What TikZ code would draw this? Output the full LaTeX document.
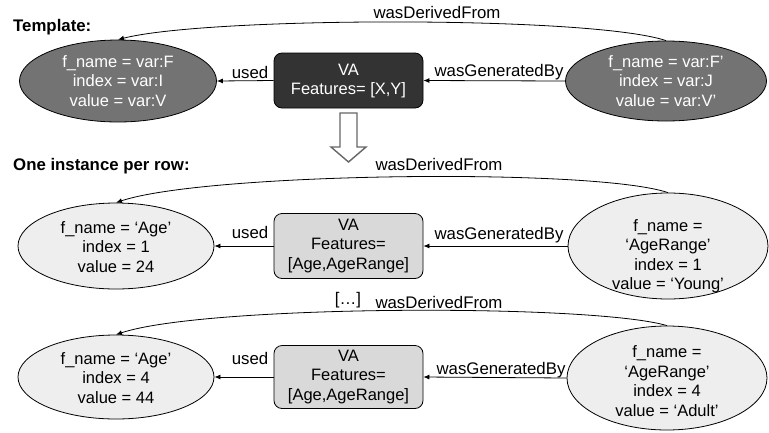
\documentclass[tikz,border=0pt]{standalone}
\usepackage{fontspec}
\setmainfont{Liberation Sans}
\usetikzlibrary{shapes.geometric,arrows.meta}
\definecolor{darkell}{HTML}{737373}
\definecolor{darkbox}{HTML}{333333}
\definecolor{lightell}{HTML}{EEEEEE}
\definecolor{lightbox}{HTML}{D9D9D9}
\definecolor{hollow}{HTML}{666666}
\begin{document}
\begin{tikzpicture}[x=1pt,y=-1pt,
  ell/.style={ellipse, draw=black, line width=0.8pt, inner sep=0pt},
  vabox/.style={draw=black, rounded corners=8pt, line width=0.8pt, inner sep=0pt},
  txt/.style={font=\fontsize{16.5}{19.5}\selectfont, align=center, inner sep=0pt},
  rel/.style={-{Latex[length=6pt,width=5pt]}, line width=0.8pt, draw=black},
  lbl/.style={font=\fontsize{16.8}{20}\selectfont, inner sep=0pt},
  head/.style={font=\bfseries\fontsize{16.8}{19}\selectfont, anchor=west, inner sep=0pt}]
\useasboundingbox (0,0) rectangle (769,432);

% headings
\node[head] (h1) at (13,27) {Template:};
\node[head] (h2) at (13,166) {One instance per row:};

% ---------- Row 1 (template) ----------
\node[ell, fill=darkell, minimum width=197pt, minimum height=82pt] (e1l) at (118,81) {};
\node[txt, text=white] (t1l) at (118,81) {f\_name = var:F\\index = var:I\\value = var:V};
\node[vabox, fill=darkbox, minimum width=149pt, minimum height=55pt] (b1) at (348.5,80.5) {};
\node[txt, text=white] (tb1) at (348.5,81) {VA\\Features= [X,Y]};
\node[ell, fill=darkell, minimum width=201pt, minimum height=80pt] (e1r) at (666,81) {};
\node[txt, text=white] (t1r) at (666,81) {f\_name = var:F’\\index = var:J\\value = var:V’};

\draw[rel] (b1.west) -- (e1l.east);
\draw[rel] (e1r.west) -- (b1.east);
\draw[rel] (e1r.north) .. controls +(-75,-25) and +(90,-23) .. (e1l.north);
\node[lbl] (u1) at (250,72) {used};
\node[lbl] (g1) at (499,72) {wasGeneratedBy};
\node[lbl] (d1) at (437,12) {wasDerivedFrom};

% hollow down arrow
\draw[draw=hollow, fill=white, line width=1.4pt, line join=miter]
  (340,113) -- (357,113) -- (357,147) -- (366,147) -- (348.5,162) -- (331,147) -- (340,147) -- cycle;

% ---------- Row 2 ----------
\node[ell, fill=lightell, minimum width=196pt, minimum height=86pt] (e2l) at (116,246) {};
\node[txt] (t2l) at (116,247) {f\_name = ‘Age’\\index = 1\\value = 24};
\node[vabox, fill=lightbox, minimum width=149pt, minimum height=65pt] (b2) at (348.5,246) {};
\node[txt] (tb2) at (348.5,246) {VA\\Features=\\{}[Age,AgeRange]};
\node[ell, fill=lightell, minimum width=200pt, minimum height=106pt] (e2r) at (668,246) {};
\node[txt] (t2r) at (668,256) {f\_name =\\‘AgeRange’\\index = 1\\value = ‘Young’};

\draw[rel] (b2.west) -- (e2l.east);
\draw[rel] (e2r.west) -- (b2.east);
\draw[rel] (e2r.north) .. controls +(-75,-25) and +(90,-30) .. (e2l.north);
\node[lbl] (u2) at (250,232) {used};
\node[lbl] (g2) at (499,235) {wasGeneratedBy};
\node[lbl] (d2) at (439,164) {wasDerivedFrom};

% ---------- Row 3 ----------
\node[lbl] (dots) at (348,300) {[…]};
\node[ell, fill=lightell, minimum width=196pt, minimum height=84pt] (e3l) at (116,377) {};
\node[txt] (t3l) at (116,378) {f\_name = ‘Age’\\index = 4\\value = 44};
\node[vabox, fill=lightbox, minimum width=149pt, minimum height=63pt] (b3) at (348.5,377) {};
\node[txt] (tb3) at (348.5,377) {VA\\Features=\\{}[Age,AgeRange]};
\node[ell, fill=lightell, minimum width=200pt, minimum height=104pt] (e3r) at (667,378) {};
\node[txt] (t3r) at (667,381) {f\_name =\\‘AgeRange’\\index = 4\\value = ‘Adult’};

\draw[rel] (b3.west) -- (e3l.east);
\draw[rel] (e3r.west) -- (b3.east);
\draw[rel] (e3r.north) .. controls +(-75,-22) and +(90,-30) .. (e3l.north);
\node[lbl] (u3) at (250,358) {used};
\node[lbl] (g3) at (501,370) {wasGeneratedBy};
\node[lbl] (d3) at (439,302) {wasDerivedFrom};
\end{tikzpicture}
\end{document}
